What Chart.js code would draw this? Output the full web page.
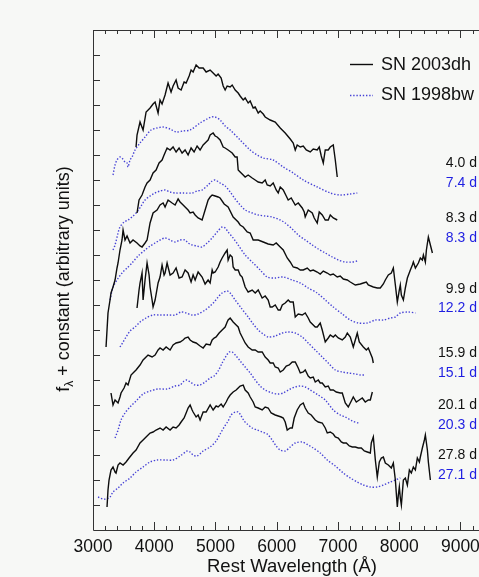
<!DOCTYPE html>
<html>
<head>
<meta charset="utf-8">
<script src="https://cdn.jsdelivr.net/npm/chart.js@4.4.1/dist/chart.umd.min.js"></script>
<style>
  html, body { margin: 0; padding: 0; overflow: hidden; background: #f7f8f6; }
  #wrap { width: 520px; height: 577px; }
</style>
</head>
<body>
<div id="wrap"><canvas id="chart" width="520" height="577"></canvas></div>
<script>
// wavelength (A), flux + offset (arbitrary units)
const dh_4_0 = [[3703,383],[3719,395],[3768,408],[3818,400],[3867,418],[3932,422],[3981,426],[4014,428],[4063,417],[4095,430],[4128,426],[4177,435],[4226,447],[4275,438],[4308,444],[4357,450],[4390,442],[4439,440],[4488,448],[4521,447],[4570,454],[4602,460],[4635,458],[4684,465],[4733,462],[4799,462],[4848,458],[4913,460],[4962,457],[5011,454],[5044,456],[5093,452],[5126,444],[5158,440],[5191,444],[5240,443],[5273,445],[5322,440],[5371,437],[5403,434],[5453,430],[5485,432],[5534,427],[5567,429],[5616,422],[5649,423],[5698,417],[5730,419],[5780,416],[5812,413],[5894,410],[5976,408],[6058,402],[6139,397],[6221,391],[6270,387],[6303,380],[6335,385],[6385,383],[6434,384],[6483,380],[6548,378],[6597,381],[6662,380],[6695,383],[6728,374],[6761,367],[6793,380],[6842,380],[6875,383],[6924,385],[6957,370],[6989,353]];
const dh_8_3 = [[3719,317],[3752,330],[3801,335],[3850,343],[3883,347],[3932,350],[3981,357],[4030,360],[4079,367],[4128,370],[4161,375],[4210,382],[4259,380],[4308,383],[4357,378],[4406,382],[4455,377],[4504,380],[4553,375],[4602,382],[4651,378],[4700,384],[4749,380],[4799,385],[4848,388],[4880,390],[4913,395],[4962,397],[4995,394],[5027,393],[5076,390],[5126,383],[5158,382],[5207,380],[5273,377],[5322,373],[5354,373],[5371,360],[5403,358],[5453,355],[5485,353],[5534,355],[5600,352],[5649,350],[5698,348],[5763,347],[5812,350],[5845,345],[5894,344],[5943,347],[5992,340],[6025,337],[6058,343],[6107,340],[6156,334],[6188,330],[6237,332],[6303,325],[6352,327],[6417,322],[6450,318],[6466,313],[6515,320],[6581,317],[6613,312],[6662,307],[6695,318],[6744,315],[6793,310],[6842,310],[6875,315],[6924,312],[6989,310]];
const dh_9_9 = [[3213,183],[3229,200],[3245,217],[3278,230],[3294,237],[3327,243],[3360,250],[3392,262],[3409,267],[3441,280],[3474,290],[3491,300],[3523,290],[3556,294],[3605,287],[3654,290],[3719,287],[3768,284],[3801,283],[3850,287],[3883,290],[3932,307],[3981,317],[4046,320],[4095,325],[4145,327],[4177,323],[4226,330],[4292,327],[4341,325],[4390,331],[4422,328],[4472,325],[4504,323],[4553,320],[4586,317],[4635,318],[4668,315],[4717,312],[4782,310],[4831,320],[4880,330],[4913,333],[4946,335],[4995,334],[5044,333],[5076,332],[5142,326],[5207,323],[5289,313],[5371,308],[5403,305],[5453,303],[5518,298],[5567,297],[5616,290],[5698,290],[5780,288],[5861,286],[5943,285],[5992,287],[6058,283],[6107,280],[6172,272],[6221,268],[6270,263],[6335,262],[6385,260],[6434,260],[6499,262],[6548,259],[6597,260],[6662,258],[6711,256],[6761,259],[6826,257],[6875,255],[6924,256],[6989,253],[7038,254],[7088,251],[7153,250],[7202,248],[7284,245],[7366,246],[7415,247],[7464,248],[7496,245],[7578,243],[7643,242],[7692,242],[7742,246],[7774,250],[7823,255],[7872,257],[7905,262],[7938,245],[7970,228],[8003,240],[8019,245],[8036,235],[8069,230],[8101,242],[8134,252],[8183,260],[8216,265],[8232,268],[8265,262],[8314,267],[8346,272],[8379,270],[8396,275],[8428,268],[8445,280],[8477,293],[8510,285],[8543,277]];
const dh_15_9 = [[3719,222],[3752,240],[3768,247],[3801,257],[3818,230],[3850,250],[3883,267],[3916,255],[3932,243],[3965,230],[3981,223],[4014,230],[4063,247],[4095,253],[4128,265],[4161,255],[4177,257],[4210,267],[4226,263],[4259,255],[4308,257],[4357,262],[4406,252],[4455,253],[4504,260],[4553,257],[4602,248],[4635,255],[4668,250],[4717,258],[4782,253],[4831,246],[4880,250],[4913,247],[4946,260],[4962,257],[4995,258],[5044,263],[5076,268],[5109,272],[5158,277],[5191,280],[5207,270],[5240,275],[5273,273],[5289,263],[5322,260],[5371,260],[5403,255],[5436,253],[5485,243],[5534,238],[5600,240],[5649,237],[5698,240],[5763,232],[5812,234],[5861,230],[5894,223],[5927,223],[5976,225],[6025,220],[6058,220],[6091,225],[6139,227],[6188,230],[6221,228],[6270,228],[6303,213],[6352,216],[6417,215],[6466,217],[6515,212],[6548,208],[6597,205],[6630,203],[6662,203],[6711,207],[6744,200],[6793,188],[6842,192],[6875,195],[6924,193],[6957,195],[7006,192],[7071,190],[7120,193],[7153,197],[7202,193],[7251,183],[7284,190],[7316,197],[7349,188],[7415,183],[7464,180],[7496,182],[7529,177],[7562,172],[7578,167]];
const dh_20_1 = [[3294,137],[3327,125],[3360,130],[3409,127],[3441,133],[3458,137],[3507,142],[3540,147],[3572,145],[3621,155],[3670,158],[3703,160],[3768,165],[3818,170],[3867,173],[3899,175],[3965,173],[4014,175],[4063,180],[4095,182],[4145,180],[4194,183],[4259,180],[4308,185],[4357,187],[4422,188],[4472,190],[4504,192],[4553,193],[4586,190],[4635,188],[4684,187],[4749,184],[4799,182],[4848,186],[4913,185],[4946,190],[4978,192],[5011,193],[5060,197],[5109,200],[5158,203],[5191,208],[5207,210],[5240,212],[5289,208],[5338,205],[5371,203],[5403,197],[5436,193],[5485,187],[5534,183],[5600,180],[5649,180],[5698,178],[5763,178],[5812,173],[5861,170],[5894,167],[5943,167],[5976,163],[6025,162],[6058,158],[6107,160],[6156,164],[6205,165],[6254,168],[6303,168],[6352,162],[6385,157],[6434,158],[6466,160],[6515,154],[6548,152],[6597,153],[6630,148],[6679,150],[6711,147],[6744,147],[6793,143],[6842,144],[6875,140],[6924,140],[6973,138],[7038,137],[7071,137],[7120,127],[7169,123],[7202,127],[7251,133],[7300,128],[7349,130],[7398,132],[7447,128],[7496,130],[7529,130],[7562,138]];
const dh_27_8 = [[3229,23],[3245,40],[3262,50],[3294,60],[3327,63],[3360,58],[3376,57],[3409,65],[3441,67],[3491,65],[3540,68],[3589,72],[3654,77],[3703,80],[3768,87],[3818,90],[3867,93],[3932,97],[3981,98],[4030,100],[4095,102],[4145,100],[4194,103],[4259,100],[4308,103],[4357,102],[4406,105],[4439,108],[4488,112],[4521,117],[4553,122],[4586,125],[4619,120],[4635,118],[4684,113],[4717,115],[4749,110],[4799,118],[4848,118],[4913,125],[4962,120],[5011,124],[5044,123],[5093,126],[5126,123],[5175,128],[5207,132],[5240,135],[5289,138],[5338,140],[5371,142],[5403,144],[5453,145],[5485,140],[5534,137],[5567,133],[5616,128],[5649,123],[5698,122],[5763,120],[5812,123],[5861,122],[5910,117],[5976,115],[6025,114],[6074,113],[6107,112],[6139,108],[6172,100],[6221,102],[6254,102],[6286,112],[6335,120],[6385,125],[6434,127],[6466,122],[6515,117],[6564,115],[6630,110],[6679,108],[6744,107],[6793,102],[6826,97],[6875,98],[6924,96],[6957,93],[7006,92],[7055,88],[7088,87],[7137,87],[7186,84],[7235,83],[7284,83],[7333,82],[7382,82],[7431,79],[7480,78],[7529,77],[7545,87],[7578,93],[7611,70],[7643,53],[7676,68],[7709,72],[7742,73],[7774,67],[7823,65],[7872,62],[7905,67],[7938,50],[7970,23],[7987,35],[8003,43],[8019,32],[8036,25],[8069,50],[8101,52],[8134,45],[8167,60],[8199,57],[8232,63],[8265,60],[8297,72],[8330,68],[8346,73],[8379,82],[8412,90],[8428,95],[8461,80],[8477,68],[8510,50]];

const bw_7_4 = [[3327,355],[3360,365],[3392,370],[3441,373],[3474,372],[3523,368],[3556,367],[3572,363],[3605,370],[3638,373],[3687,380],[3768,387],[3850,393],[3948,400],[4046,402],[4145,403],[4259,401],[4357,398],[4472,399],[4586,400],[4749,407],[4864,411],[4929,413],[4995,413],[5076,410],[5158,404],[5240,400],[5403,390],[5567,380],[5681,375],[5780,372],[5943,370],[6107,363],[6270,357],[6434,350],[6662,343],[6875,337],[7038,335],[7202,336],[7316,337]];
const bw_8_3 = [[3327,280],[3360,285],[3409,297],[3441,303],[3507,308],[3572,310],[3654,314],[3719,318],[3785,324],[3850,330],[3932,334],[4014,337],[4095,339],[4177,340],[4259,338],[4341,337],[4472,337],[4619,337],[4700,339],[4782,340],[4880,345],[4946,349],[4995,350],[5076,347],[5158,344],[5240,338],[5322,331],[5403,325],[5485,320],[5600,317],[5698,315],[5812,314],[5927,313],[6058,310],[6139,307],[6254,301],[6352,295],[6466,290],[6581,285],[6679,281],[6793,277],[6908,273],[7006,270],[7120,268],[7235,268],[7316,269]];
const bw_12_2 = [[3278,230],[3327,243],[3392,250],[3474,257],[3556,262],[3638,267],[3736,274],[3850,280],[3932,284],[4014,287],[4095,290],[4177,292],[4259,290],[4341,288],[4422,290],[4504,290],[4553,287],[4619,285],[4700,284],[4782,283],[4864,287],[4946,292],[5027,298],[5109,303],[5158,302],[5207,298],[5289,292],[5371,285],[5485,275],[5616,267],[5730,260],[5845,253],[5976,252],[6107,253],[6254,250],[6385,247],[6515,242],[6662,237],[6793,230],[6924,223],[7071,216],[7202,210],[7333,207],[7480,207],[7611,210],[7742,210],[7856,212],[7938,213],[8019,217],[8150,218],[8265,217]];
const bw_15_1 = [[3441,183],[3491,188],[3540,193],[3605,199],[3687,203],[3768,208],[3867,212],[3981,215],[4095,215],[4226,215],[4341,215],[4439,218],[4521,217],[4619,215],[4717,216],[4831,220],[4913,224],[4978,228],[5044,233],[5109,237],[5191,239],[5240,237],[5322,230],[5420,222],[5534,213],[5616,206],[5698,200],[5780,196],[5861,193],[5976,194],[6091,197],[6188,198],[6303,197],[6417,193],[6515,187],[6630,180],[6744,173],[6842,167],[6957,160],[7071,158],[7169,157],[7284,156],[7366,155],[7447,155]];
const bw_20_3 = [[3360,92],[3409,100],[3458,110],[3523,117],[3605,123],[3719,130],[3818,136],[3932,139],[4063,141],[4210,141],[4341,144],[4422,145],[4488,149],[4537,150],[4586,148],[4668,145],[4749,145],[4831,148],[4913,152],[4978,154],[5044,159],[5109,167],[5175,174],[5224,178],[5273,178],[5338,174],[5403,169],[5485,163],[5567,157],[5649,150],[5730,144],[5812,140],[5927,137],[6025,136],[6107,137],[6221,141],[6303,143],[6385,144],[6466,143],[6548,140],[6679,135],[6793,130],[6924,120],[7038,115],[7120,113],[7235,109],[7333,107]];
const bw_27_1 = [[3082,33],[3164,31],[3213,31],[3278,33],[3327,38],[3409,42],[3491,47],[3605,52],[3703,58],[3818,63],[3932,68],[4046,70],[4194,70],[4308,70],[4422,74],[4537,79],[4586,78],[4635,75],[4700,74],[4799,79],[4913,83],[5011,89],[5076,96],[5142,103],[5207,109],[5256,115],[5322,118],[5371,118],[5420,114],[5469,109],[5518,106],[5600,102],[5681,100],[5763,98],[5845,96],[5927,90],[5992,84],[6058,80],[6139,79],[6221,83],[6303,87],[6417,88],[6515,85],[6597,82],[6711,77],[6826,70],[6957,64],[7088,57],[7202,52],[7316,48],[7415,45],[7529,43],[7643,43],[7742,45],[7856,48],[7938,50],[8019,52]];

const dhEpochs = ['4.0 d', '8.3 d', '9.9 d', '15.9 d', '20.1 d', '27.8 d'];
const bwEpochs = ['7.4 d', '8.3 d', '12.2 d', '15.1 d', '20.3 d', '27.1 d'];
const xTicks = [3000, 4000, 5000, 6000, 7000, 8000, 9000];

const dhSpectra = [dh_4_0, dh_8_3, dh_9_9, dh_15_9, dh_20_1, dh_27_8];
const bwSpectra = [bw_7_4, bw_8_3, bw_12_2, bw_15_1, bw_20_3, bw_27_1];

const BLACK = '#0d0d0d';
const BLUE = 'rgb(70,66,214)';
const LABEL_BLUE = 'rgb(30,30,225)';
const FONT = '"Liberation Sans", Arial, sans-serif';

function toPoints(arr) {
    return arr.map(p => ({ x: p[0], y: p[1] }));
}

const datasets = [];
dhSpectra.forEach((s, i) => {
    datasets.push({
        label: 'SN 2003dh ' + dhEpochs[i],
        data: toPoints(s),
        borderColor: BLACK,
        borderWidth: 1.4,
        pointRadius: 0,
        tension: 0
    });
});
bwSpectra.forEach((s, i) => {
    datasets.push({
        label: 'SN 1998bw ' + bwEpochs[i],
        data: toPoints(s),
        borderColor: BLUE,
        borderWidth: 1.4,
        borderDash: [1.4, 1.8],
        pointRadius: 0,
        tension: 0.3
    });
});

// frame, inward ticks, labels, legend
const decor = {
    id: 'decor',
    afterDraw(chart) {
        const ctx = chart.ctx;
        const a = chart.chartArea;
        const xs = chart.scales.x, ys = chart.scales.y;
        ctx.save();
        ctx.strokeStyle = '#333';
        ctx.lineWidth = 1;
        ctx.beginPath();
        ctx.moveTo(a.left + 0.5, a.top + 0.5);
        ctx.lineTo(a.right + 0.5, a.top + 0.5);
        ctx.lineTo(a.right + 0.5, a.bottom + 0.5);
        ctx.lineTo(a.left + 0.5, a.bottom + 0.5);
        ctx.closePath();
        ctx.stroke();

        // x ticks top & bottom
        ctx.beginPath();
        for (let w = 3000; w <= 9500; w += 200) {
            const px = Math.round(xs.getPixelForValue(w)) + 0.5;
            const len = (w % 1000 === 0) ? 8 : 4;
            ctx.moveTo(px, a.top); ctx.lineTo(px, a.top + len);
            ctx.moveTo(px, a.bottom); ctx.lineTo(px, a.bottom - len);
        }
        // y ticks left
        for (let v = 25; v < 500; v += 25) {
            const py = Math.round(ys.getPixelForValue(v)) + 0.5;
            ctx.moveTo(a.left, py); ctx.lineTo(a.left + 7, py);
        }
        ctx.stroke();

        ctx.fillStyle = '#111';
        ctx.font = '17.5px ' + FONT;
        ctx.textAlign = 'center';
        ctx.textBaseline = 'middle';
        xTicks.forEach(t => ctx.fillText(String(t), xs.getPixelForValue(t), a.bottom + 17));

        ctx.font = '18.5px ' + FONT;
        ctx.fillText('Rest Wavelength (\u00C5)', 292, a.bottom + 37);

        // y title with subscript lambda
        ctx.save();
        ctx.translate(64, 279);
        ctx.rotate(-Math.PI / 2);
        ctx.font = '18px ' + FONT;
        const rest = ' + constant (arbitrary units)';
        const wf = ctx.measureText('f').width;
        ctx.font = '12px ' + FONT;
        const wl = ctx.measureText('\u03BB').width;
        ctx.font = '18px ' + FONT;
        const wr = ctx.measureText(rest).width;
        let x0 = -(wf + wl + wr) / 2;
        ctx.textAlign = 'left';
        ctx.fillText('f', x0, 0);
        ctx.font = '12px ' + FONT;
        ctx.fillText('\u03BB', x0 + wf, 6);
        ctx.font = '18px ' + FONT;
        ctx.fillText(rest, x0 + wf + wl, 0);
        ctx.restore();

        // legend
        ctx.lineWidth = 1.4;
        ctx.strokeStyle = BLACK;
        ctx.beginPath(); ctx.moveTo(350, 64.5); ctx.lineTo(373, 64.5); ctx.stroke();
        ctx.strokeStyle = BLUE;
        ctx.setLineDash([1.4, 1.8]);
        ctx.beginPath(); ctx.moveTo(350, 95.5); ctx.lineTo(373, 95.5); ctx.stroke();
        ctx.setLineDash([]);
        ctx.font = '18px ' + FONT;
        ctx.textAlign = 'left';
        ctx.fillStyle = '#111';
        ctx.fillText('SN 2003dh', 381, 65);
        ctx.fillText('SN 1998bw', 381, 95);

        // epochs
        const dhAt = [367, 312, 241, 177, 125, 75];
        const bwAt = [347, 292, 222, 157, 105, 55];
        ctx.font = '14px ' + FONT;
        ctx.textAlign = 'right';
        dhEpochs.forEach((t, i) => {
            ctx.fillStyle = '#111';
            ctx.fillText(t, 477, ys.getPixelForValue(dhAt[i]));
        });
        bwEpochs.forEach((t, i) => {
            ctx.fillStyle = LABEL_BLUE;
            ctx.fillText(t, 477, ys.getPixelForValue(bwAt[i]));
        });
        ctx.restore();
    }
};

new Chart(document.getElementById('chart').getContext('2d'), {
    type: 'line',
    data: { datasets: datasets },
    options: {
        responsive: false,
        animation: false,
        devicePixelRatio: 1,
        layout: { padding: { left: 93, top: 30, right: 29, bottom: 47 } },
        plugins: { legend: { display: false }, tooltip: { enabled: false } },
        scales: {
            x: { type: 'linear', min: 3000, max: 9500, display: false },
            y: { type: 'linear', min: 0, max: 500, display: false }
        }
    },
    plugins: [decor]
});
</script>
</body>
</html>
